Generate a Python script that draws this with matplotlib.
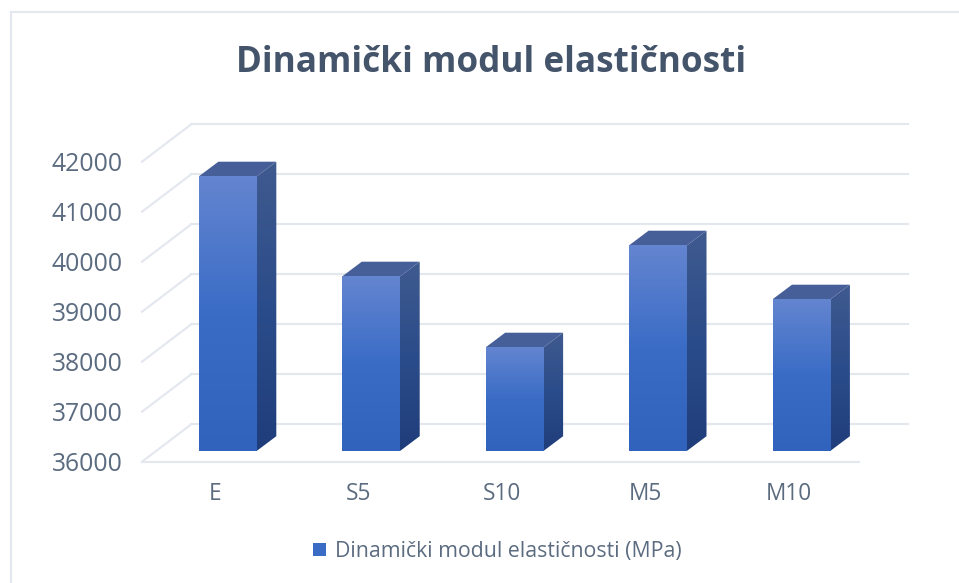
import numpy as np
import matplotlib
matplotlib.use("Agg")
import matplotlib.pyplot as plt
from matplotlib.colors import LinearSegmentedColormap
from matplotlib.lines import Line2D
from matplotlib.patches import Polygon

categories = ["E", "S5", "S10", "M5", "M10"]
values = [41490, 39490, 38070, 40110, 39030]
y_ticks = [36000, 37000, 38000, 39000, 40000, 41000, 42000]
title = "Dinamički modul elastičnosti"
series_name = "Dinamički modul elastičnosti (MPa)"

W, H = 959, 583
plt.rcParams["font.family"] = ["Open Sans", "DejaVu Sans"]
fig = plt.figure(figsize=(W / 100, H / 100), dpi=100, facecolor="white")

# pixel placement of the bar plane
L, R, B, T = 142, 859, 450.7, 150.7
ax = fig.add_axes([L / W, 1 - B / H, (R - L) / W, (B - T) / H])
ax.set_xlim(-0.6, 4.4)
ax.set_ylim(36000, 42000)
ax.axis("off")

GRID = "#e3e7ee"
TXT = "#5b6b80"
BAR_W = 0.404
px_x = 5 / (R - L)
px_y = 6000 / (B - T)

x0, x1 = ax.get_xlim()
for v in y_ticks:
    fy = v - 11.0 * px_y
    by = v + 26.4 * px_y
    bx = x0 + 49.3 * px_x
    ax.plot([x0, bx], [fy, by], color=GRID, lw=1.5, clip_on=False, zorder=1)
    ax.plot([bx, x1 + 48.7 * px_x], [by, by], color=GRID, lw=1.5, clip_on=False, zorder=1)
    ax.text(x0 - 19.5 * px_x, fy - 3 * px_y, str(v), ha="right", va="center",
            fontsize=17.8, color=TXT, zorder=5, clip_on=False)
ax.plot([x0, x1], [36000 - 11 * px_y] * 2, color=GRID, lw=1.5, clip_on=False, zorder=1)

front_cmap = LinearSegmentedColormap.from_list("f", ["#6485d0", "#3a6cc6", "#3163bd"])
side_cmap = LinearSegmentedColormap.from_list("s", ["#3f5a8f", "#2b4c8a", "#1f3d7a"])
grad = np.linspace(0, 1, 256).reshape(-1, 1)
dx = 19.3 * px_x
dy = 14.5 * px_y
eps = 1.0 * px_x
top_color = "#475f99"

for i, v in enumerate(values):
    a, b = i - BAR_W / 2, i + BAR_W / 2
    base = 36000
    ax.bar(i, v - base, BAR_W, bottom=base, color="#3a6cc6", zorder=2,
           label=series_name if i == 0 else None)
    ax.imshow(grad, cmap=front_cmap, extent=(a, b, base, v), aspect="auto",
              origin="upper", zorder=3, interpolation="bilinear", clip_on=False)
    im2 = ax.imshow(grad, cmap=side_cmap, extent=(b - eps, b + dx, base, v + dy), aspect="auto",
                    origin="upper", zorder=2.5, interpolation="bilinear")
    side = Polygon([(b - eps, base), (b, base), (b + dx, base + dy), (b + dx, v + dy), (b, v), (b - eps, v)],
                   closed=True, transform=ax.transData, fc="none", ec="none")
    ax.add_patch(side)
    im2.set_clip_path(side)
    ax.add_patch(Polygon([(a, v), (a + dx, v + dy), (b + dx, v + dy), (b, v)],
                         closed=True, fc=top_color, ec="none", zorder=2.8, clip_on=False))
    ax.text(i - 0.09, 36000 - 43 * px_y, categories[i], ha="center", va="center",
            fontsize=16.3, color=TXT, clip_on=False)

ax.set_xlim(x0, x1)
ax.set_ylim(36000, 42000)

fig.text(491.5 / W, 1 - 63 / H, title, ha="center", va="center", fontsize=25.3,
         fontweight="bold", color="#44546a")

ax.legend(loc="center", bbox_to_anchor=(497 / W, 1 - 551.5 / H), bbox_transform=fig.transFigure,
          frameon=False, fontsize=15.3, handlelength=0.62, handleheight=0.62,
          handletextpad=0.4, labelcolor=TXT)

# chart frame
fig.add_artist(Line2D([10.5 / W, 10.5 / W], [0, 1 - 11.5 / H], color=GRID, lw=1.5))
fig.add_artist(Line2D([10.5 / W, 1], [1 - 11.5 / H, 1 - 11.5 / H], color=GRID, lw=1.5))

fig.savefig("out.png", dpi=100)
